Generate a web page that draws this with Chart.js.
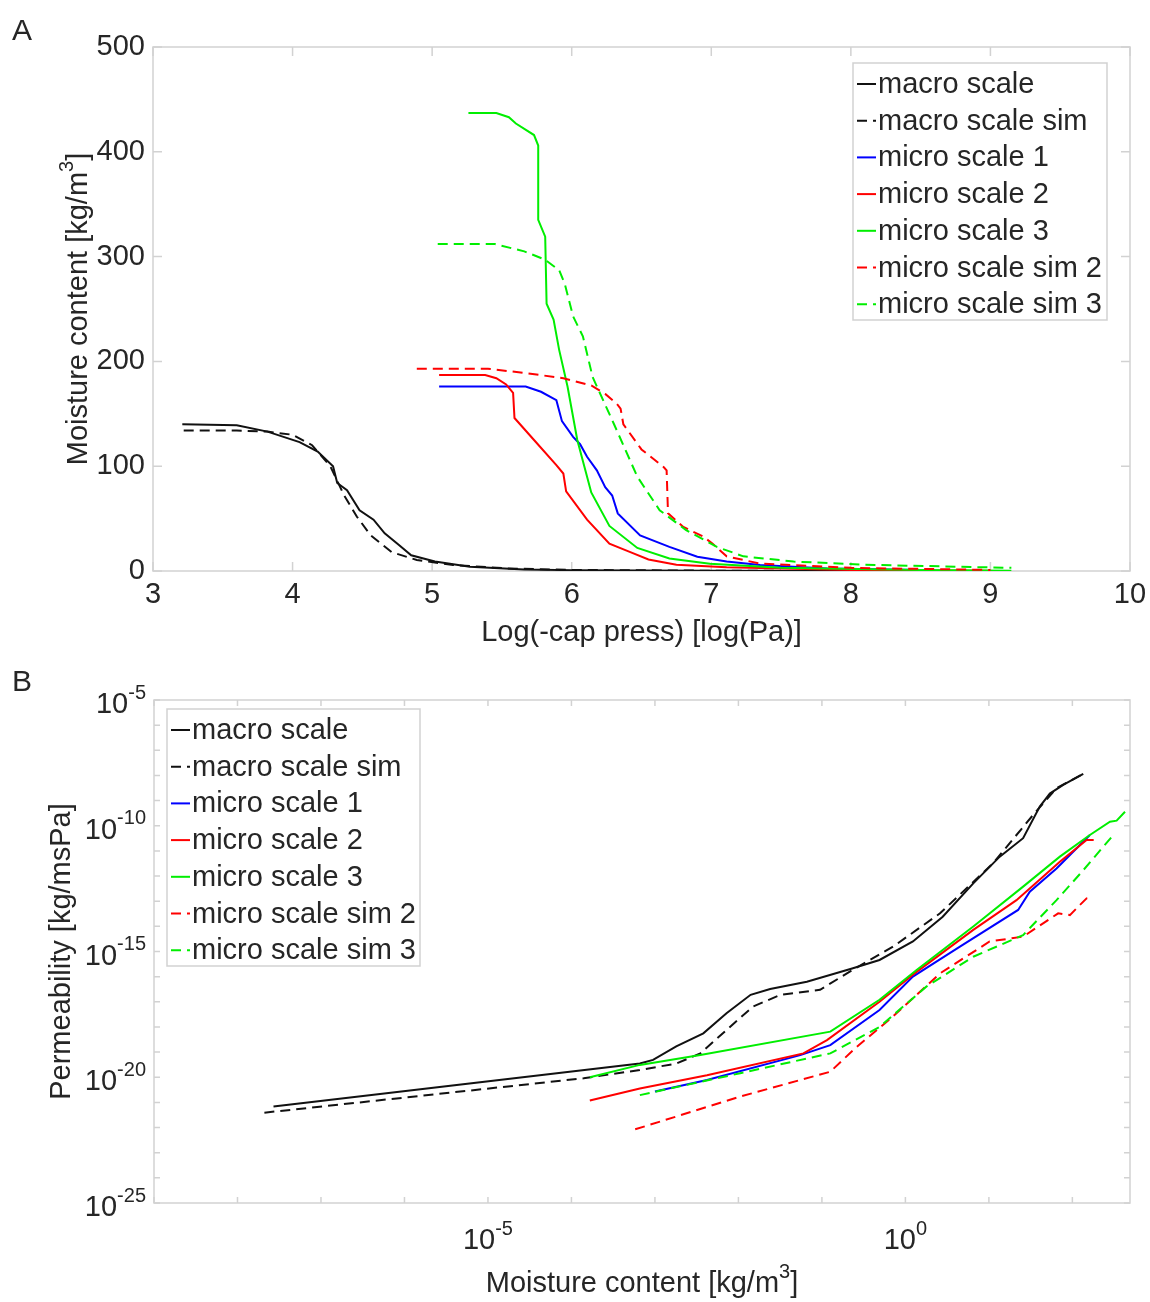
<!DOCTYPE html>
<html>
<head>
<meta charset="utf-8">
<script src="https://cdn.jsdelivr.net/npm/chart.js@4/dist/chart.umd.min.js"></script>
<style>
  body { margin: 0; background: #fff; }
  canvas { position: absolute; left: 0; }
  #chartA { top: 0; }
  #chartB { top: 650px; }
</style>
</head>
<body>
<canvas id="chartA" width="1150" height="650"></canvas>
<canvas id="chartB" width="1150" height="652"></canvas>
<script>
// ---- series names (same for both panels) ----
const seriesLabels = ['macro scale', 'macro scale sim', 'micro scale 1', 'micro scale 2', 'micro scale 3', 'micro scale sim 2', 'micro scale sim 3'];

// ---- panel A: moisture content vs log(-capillary pressure) ----
const aMacroX = [3.21, 3.60, 3.82, 4.05, 4.18, 4.29, 4.32, 4.39, 4.48, 4.58, 4.66, 4.76, 4.85, 5.02, 5.27, 5.66, 6.0, 7.0, 8.0];
const aMacroY = [140, 139, 133, 123, 114, 100, 84, 77, 58, 49, 36, 25, 15, 9, 4, 1.5, 0.8, 0.3, 0.1];
const aMacroSimX = [3.22, 3.60, 3.82, 4.00, 4.14, 4.27, 4.37, 4.46, 4.56, 4.71, 4.89, 5.15, 5.53, 6.0, 7.0, 7.5];
const aMacroSimY = [134, 134, 133, 130, 120, 100, 72, 52, 34, 18, 10.5, 5.7, 2.5, 1.0, 0.3, 0.2];
const aMicro1X = [5.05, 5.67, 5.78, 5.89, 5.93, 6.01, 6.06, 6.11, 6.18, 6.24, 6.29, 6.33, 6.49, 6.70, 6.90, 7.11, 7.35, 7.83, 8.5];
const aMicro1Y = [176, 176, 171, 163, 143, 128, 121, 109, 96, 80, 72, 55, 34, 23, 13.6, 9, 5.7, 2.5, 1];
const aMicro2X = [5.05, 5.38, 5.46, 5.53, 5.58, 5.59, 5.73, 5.89, 5.94, 5.96, 6.11, 6.27, 6.42, 6.55, 6.75, 7.11, 8.0, 9.0];
const aMicro2Y = [187, 187, 184, 178, 170, 146, 125, 101, 93, 76, 49, 26, 18, 11, 6, 3.5, 1, 0.3];
const aMicro3X = [5.26, 5.46, 5.55, 5.60, 5.73, 5.76, 5.76, 5.81, 5.82, 5.87, 5.91, 5.97, 6.04, 6.14, 6.27, 6.47, 6.70, 6.99, 7.5, 8.5, 9.15];
const aMicro3Y = [437, 437, 433, 427, 416, 406, 335, 319, 255, 240, 211, 176, 125, 75, 43, 22, 12, 7, 3, 1, 0.3];
const aMicroSim2X = [4.89, 5.40, 5.66, 5.94, 6.14, 6.24, 6.32, 6.35, 6.37, 6.50, 6.66, 6.68, 6.69, 6.80, 6.94, 7.01, 7.11, 7.35, 8.0, 9.0];
const aMicroSim2Y = [193, 193, 189, 184, 177, 169, 160, 155, 140, 116, 99, 96, 55, 42, 33, 26, 14, 7, 3, 1];
const aMicroSim3X = [5.04, 5.45, 5.66, 5.81, 5.91, 5.95, 6.01, 6.08, 6.15, 6.30, 6.47, 6.63, 6.82, 7.04, 7.23, 7.59, 8.1, 9.15];
const aMicroSim3Y = [312, 312, 305, 297, 287, 274, 243, 224, 185, 141, 90, 58, 39, 23, 14, 9, 6, 3];

const aXTicks = [3, 4, 5, 6, 7, 8, 9, 10];
const aYTicks = [0, 100, 200, 300, 400, 500];

// ---- panel B: permeability vs moisture content (log-log) ----
const bMacroX = [2.7e-8, 6.6e-4, 9.5e-4, 1.8e-3, 3.8e-3, 7.2e-3, 1.4e-2, 2.4e-2, 6.6e-2, 0.23, 0.49, 1.23, 2.8, 6.5, 13.5, 25.7, 40.7, 53.7, 77.6, 135];
const bMacroY = [6.8e-22, 3.5e-20, 4.9e-20, 1.7e-19, 5.6e-19, 3.5e-18, 1.9e-17, 3.2e-17, 6.3e-17, 2.1e-16, 4.6e-16, 2.5e-15, 2.4e-14, 5.1e-13, 5.9e-12, 3.2e-11, 5.8e-10, 1.9e-9, 4.2e-9, 1.15e-8];
const bMacroSimX = [2.1e-8, 1.4e-4, 6.6e-4, 1.8e-3, 3.5e-3, 7.2e-3, 1.5e-2, 3.2e-2, 9.5e-2, 0.23, 0.71, 2.6, 11.2, 33.9, 64.6, 135];
const bMacroSimY = [3.9e-22, 9.1e-21, 1.95e-20, 3.5e-20, 8.9e-20, 7.6e-19, 6.5e-18, 1.9e-17, 3.0e-17, 1.8e-16, 1.55e-15, 3.3e-14, 3.2e-12, 2.7e-10, 3.1e-9, 1.15e-8];
const bMicro1X = [1.0e-3, 4.2e-3, 5.5e-2, 0.126, 0.49, 1.23, 4.5, 22.4, 30.9, 64.6, 162];
const bMicro1Y = [2.7e-21, 7.8e-21, 7.6e-20, 1.9e-19, 4.7e-18, 1.0e-16, 1.55e-15, 4.5e-14, 2.4e-13, 2.0e-12, 4.3e-11];
const bMicro2X = [1.66e-4, 6.6e-4, 4.2e-3, 6.0e-2, 0.115, 0.49, 1.23, 6.5, 21.4, 70.8, 148, 180];
const bMicro2Y = [1.2e-21, 3.6e-21, 1.2e-20, 8.9e-20, 3.0e-19, 1.0e-17, 1.2e-16, 7.2e-15, 1.1e-13, 3.7e-12, 2.7e-11, 2.7e-11];
const bMicro3X = [1.66e-4, 6.6e-4, 3.5e-3, 0.126, 0.49, 1.35, 6.5, 25.7, 70.8, 162, 282, 339, 427];
const bMicro3Y = [1.0e-20, 3.1e-20, 7.6e-20, 6.5e-19, 1.2e-17, 1.8e-16, 9.8e-15, 3.8e-13, 5.9e-12, 4.3e-11, 1.45e-10, 1.6e-10, 3.6e-10];
const bMicroSim2X = [5.8e-4, 1.05e-2, 0.126, 0.26, 0.71, 2.6, 10.2, 25.7, 67.6, 93.3, 148, 170];
const bMicroSim2Y = [8.5e-23, 1.7e-21, 1.66e-20, 1.6e-19, 2.6e-18, 1.35e-16, 2.5e-15, 3.9e-15, 3.3e-14, 2.8e-14, 1.3e-13, 1.4e-13];
const bMicroSim3X = [6.6e-4, 1.05e-2, 0.126, 0.49, 1.78, 6.5, 25.7, 64.6, 135, 309];
const bMicroSim3Y = [1.95e-21, 1.45e-20, 8.9e-20, 1.0e-18, 4.0e-17, 6.2e-16, 4.5e-15, 1.1e-13, 1.7e-12, 4.3e-11];

const bXDecades = [1e-9, 1e-8, 1e-7, 1e-6, 1e-5, 1e-4, 1e-3, 1e-2, 1e-1, 1, 1e1, 1e2];
const bYDecades = [1e-25, 1e-24, 1e-23, 1e-22, 1e-21, 1e-20, 1e-19, 1e-18, 1e-17, 1e-16, 1e-15, 1e-14, 1e-13, 1e-12, 1e-11, 1e-10, 1e-9, 1e-8, 1e-7, 1e-6, 1e-5];
const bXLabelValues = [1e-5, 1];
const bXLabelExp = ['-5', '0'];
const bYLabelValues = [1e-5, 1e-10, 1e-15, 1e-20, 1e-25];
const bYLabelExp = ['-5', '-10', '-15', '-20', '-25'];

// ---- look ----
const FAMILY = '"Liberation Sans", Arial, sans-serif';
const MAIN_FONT = '29px ' + FAMILY;
const SUP_FONT = '20px ' + FAMILY;
const TEXT = '#262626';
const FRAME = '#d2d2d2';
const styles = [
  { color: '#111111', dash: [] },
  { color: '#111111', dash: [10, 6] },
  { color: '#0000ff', dash: [] },
  { color: '#ff0000', dash: [] },
  { color: '#00ee00', dash: [] },
  { color: '#ff0000', dash: [10, 6] },
  { color: '#00ee00', dash: [10, 6] },
];

function buildDatasets(pairs) {
  return pairs.map(([xs, ys], i) => ({
    label: seriesLabels[i],
    data: xs.map((x, k) => ({ x, y: ys[k] })),
    borderColor: styles[i].color,
    borderDash: styles[i].dash,
    borderWidth: 2,
    pointRadius: 0,
    tension: 0,
    fill: false,
    order: pairs.length - i, // later series on top, like the original plot
  }));
}

// text with optional superscript parts, centred on (x, y)
function drawRich(ctx, parts, x, y, angle, align) {
  ctx.save();
  ctx.translate(x, y);
  ctx.rotate(angle || 0);
  ctx.textBaseline = 'middle';
  ctx.textAlign = 'left';
  ctx.fillStyle = TEXT;
  const widths = parts.map((p) => {
    ctx.font = p.sup ? SUP_FONT : MAIN_FONT;
    return ctx.measureText(p.t).width;
  });
  const total = widths.reduce((s, w) => s + w, 0);
  let cx = align === 'right' ? -total : -total / 2;
  parts.forEach((p, i) => {
    ctx.font = p.sup ? SUP_FONT : MAIN_FONT;
    ctx.fillText(p.t, cx, p.sup ? -12 : 0);
    cx += widths[i];
  });
  ctx.restore();
}

const matlabLook = {
  id: 'matlabLook',
  beforeDatasetsDraw(chart, args, opts) {
    const { ctx, chartArea: a } = chart;
    const xs = chart.scales.x;
    const ys = chart.scales.y;
    ctx.save();
    ctx.strokeStyle = FRAME;
    ctx.lineWidth = 1.5;
    ctx.strokeRect(a.left, a.top, a.right - a.left, a.bottom - a.top);
    ctx.beginPath();
    opts.xTicks.forEach((v) => {
      const px = xs.getPixelForValue(v);
      ctx.moveTo(px, a.bottom); ctx.lineTo(px, a.bottom - opts.tickLen);
      ctx.moveTo(px, a.top); ctx.lineTo(px, a.top + opts.tickLen);
    });
    opts.yTicks.forEach((v) => {
      const py = ys.getPixelForValue(v);
      ctx.moveTo(a.left, py); ctx.lineTo(a.left + opts.tickLen, py);
      ctx.moveTo(a.right, py); ctx.lineTo(a.right - opts.tickLen, py);
    });
    ctx.stroke();
    ctx.restore();
  },
  afterDraw(chart, args, opts) {
    const ctx = chart.ctx;
    const a = chart.chartArea;

    // power-of-ten tick labels (panel B)
    if (opts.powLabels) {
      const xs = chart.scales.x;
      const ys = chart.scales.y;
      bXLabelValues.forEach((v, i) => {
        drawRich(ctx, [{ t: '10' }, { t: bXLabelExp[i], sup: true }], xs.getPixelForValue(v), a.bottom + 38, 0, 'center');
      });
      bYLabelValues.forEach((v, i) => {
        drawRich(ctx, [{ t: '10' }, { t: bYLabelExp[i], sup: true }], a.left - 8, ys.getPixelForValue(v) + 5, 0, 'right');
      });
    }

    // axis titles and panel letter
    drawRich(ctx, opts.xTitle, (a.left + a.right) / 2, opts.xTitleY, 0);
    drawRich(ctx, opts.yTitle, opts.yTitleX, (a.top + a.bottom) / 2, -Math.PI / 2);
    ctx.save();
    ctx.fillStyle = TEXT;
    ctx.font = '30px ' + FAMILY;
    ctx.textAlign = 'center';
    ctx.textBaseline = 'middle';
    ctx.fillText(opts.letter, 22, opts.letterY);
    ctx.restore();

    // legend box
    const lg = opts.legend;
    ctx.save();
    ctx.fillStyle = '#ffffff';
    ctx.fillRect(lg.left, lg.top, lg.width, lg.height);
    ctx.strokeStyle = FRAME;
    ctx.lineWidth = 1.5;
    ctx.strokeRect(lg.left, lg.top, lg.width, lg.height);
    ctx.font = MAIN_FONT;
    ctx.textBaseline = 'middle';
    ctx.textAlign = 'left';
    chart.data.datasets.forEach((ds, i) => {
      const y = lg.top + 21 + i * 36.7;
      ctx.strokeStyle = ds.borderColor;
      ctx.lineWidth = 2;
      ctx.setLineDash(ds.borderDash || []);
      ctx.beginPath();
      ctx.moveTo(lg.left + 4, y);
      ctx.lineTo(lg.left + 23, y);
      ctx.stroke();
      ctx.setLineDash([]);
      ctx.fillStyle = TEXT;
      ctx.fillText(ds.label, lg.left + 25, y + 1);
    });
    ctx.restore();
  },
};

const tickFont = { family: FAMILY, size: 29 };

new Chart(document.getElementById('chartA'), {
  type: 'line',
  data: {
    datasets: buildDatasets([
      [aMacroX, aMacroY], [aMacroSimX, aMacroSimY], [aMicro1X, aMicro1Y], [aMicro2X, aMicro2Y],
      [aMicro3X, aMicro3Y], [aMicroSim2X, aMicroSim2Y], [aMicroSim3X, aMicroSim3Y],
    ]),
  },
  options: {
    responsive: false,
    animation: false,
    devicePixelRatio: 1,
    layout: { padding: { top: 47, right: 20, left: 0, bottom: 0 } },
    plugins: {
      legend: { display: false },
      tooltip: { enabled: false },
      matlabLook: {
        xTicks: aXTicks,
        yTicks: aYTicks,
        tickLen: 9,
        xTitle: [{ t: 'Log(-cap press) [log(Pa)]' }],
        xTitleY: 633,
        yTitle: [{ t: 'Moisture content [kg/m' }, { t: '3', sup: true }, { t: ']' }],
        yTitleX: 79,
        letter: 'A',
        letterY: 32,
        legend: { left: 853, top: 63, width: 254, height: 257 },
      },
    },
    scales: {
      x: {
        type: 'linear', min: 3, max: 10,
        afterBuildTicks: (s) => { s.ticks = aXTicks.map((v) => ({ value: v })); },
        ticks: { font: tickFont, color: TEXT, padding: 7, maxRotation: 0, autoSkip: false },
        grid: { display: false, drawTicks: false },
        border: { display: false },
        afterFit: (s) => { s.height = 79; s.paddingLeft = 0; s.paddingRight = 0; },
      },
      y: {
        type: 'linear', min: 0, max: 500,
        afterBuildTicks: (s) => { s.ticks = aYTicks.map((v) => ({ value: v })); },
        ticks: { font: tickFont, color: TEXT, padding: 8 },
        grid: { display: false, drawTicks: false },
        border: { display: false },
        afterFit: (s) => { s.width = 153; s.paddingTop = 0; s.paddingBottom = 0; },
      },
    },
  },
  plugins: [matlabLook],
});

new Chart(document.getElementById('chartB'), {
  type: 'line',
  data: {
    datasets: buildDatasets([
      [bMacroX, bMacroY], [bMacroSimX, bMacroSimY], [bMicro1X, bMicro1Y], [bMicro2X, bMicro2Y],
      [bMicro3X, bMicro3Y], [bMicroSim2X, bMicroSim2Y], [bMicroSim3X, bMicroSim3Y],
    ]),
  },
  options: {
    responsive: false,
    animation: false,
    devicePixelRatio: 1,
    layout: { padding: { top: 50, right: 20, left: 0, bottom: 0 } },
    plugins: {
      legend: { display: false },
      tooltip: { enabled: false },
      matlabLook: {
        xTicks: bXDecades,
        yTicks: bYDecades,
        tickLen: 6,
        powLabels: true,
        xTitle: [{ t: 'Moisture content [kg/m' }, { t: '3', sup: true }, { t: ']' }],
        xTitleY: 634,
        yTitle: [{ t: 'Permeability [kg/msPa]' }],
        yTitleX: 62,
        letter: 'B',
        letterY: 33,
        legend: { left: 167, top: 59, width: 253, height: 257 },
      },
    },
    scales: {
      x: {
        type: 'logarithmic', min: 1e-9, max: 490,
        ticks: { display: false },
        grid: { display: false, drawTicks: false },
        border: { display: false },
        afterFit: (s) => { s.height = 99; },
      },
      y: {
        type: 'logarithmic', min: 1e-25, max: 1e-5,
        ticks: { display: false },
        grid: { display: false, drawTicks: false },
        border: { display: false },
        afterFit: (s) => { s.width = 154; },
      },
    },
  },
  plugins: [matlabLook],
});
</script>
</body>
</html>
